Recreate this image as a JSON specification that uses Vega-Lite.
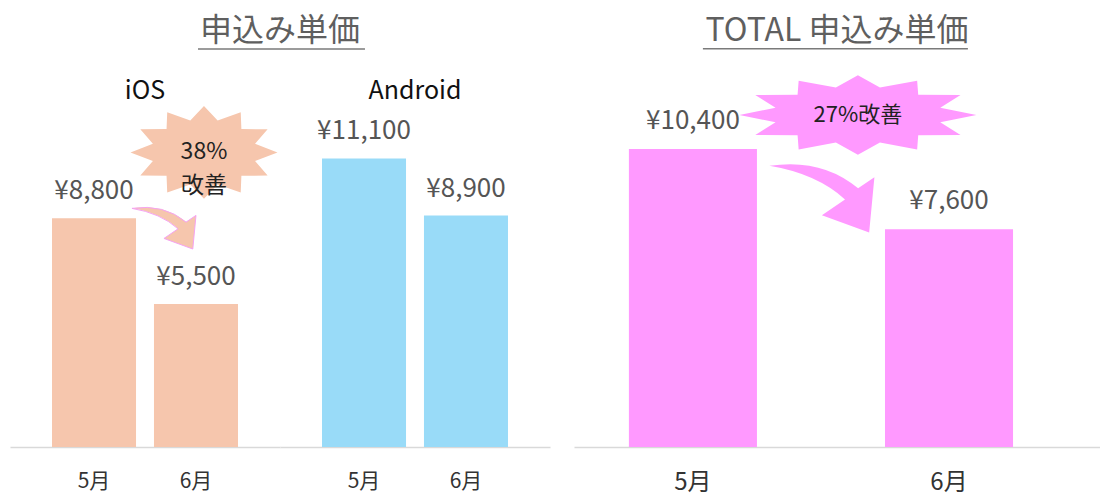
{
  "$schema": "https://vega.github.io/schema/vega-lite/v6.json",
  "padding": {"left": 10, "top": 15, "right": 0, "bottom": 0},
  "background": "white",
  "datasets": {
    "platform": [
      {"os": "iOS", "month": "5月", "value": 8800},
      {"os": "iOS", "month": "6月", "value": 5500},
      {"os": "Android", "month": "5月", "value": 11100},
      {"os": "Android", "month": "6月", "value": 8900}
    ],
    "total": [
      {"month": "5月", "value": 10400},
      {"month": "6月", "value": 7600}
    ]
  },
  "config": {
    "font": "Noto Sans CJK JP",
    "view": {"stroke": null},
    "locale": {"number": {"decimal": ".", "thousands": ",", "grouping": [3], "currency": ["¥", ""]}},
    "axisX": {"domainColor": "#d9d9d9", "domainWidth": 1.5, "ticks": false, "labelAngle": 0, "title": null, "labelColor": "#333333", "grid": false, "labelFont": "Noto Sans CJK JP"}
  },
  "spacing": 24,
  "hconcat": [
    {
      "data": {"name": "platform"},
      "title": {"text": "申込み単価", "fontSize": 32, "fontWeight": "normal", "color": "#5f5f5f", "offset": 0, "anchor": "middle", "font": "Noto Sans CJK JP"},
      "facet": {"column": {"field": "os", "type": "nominal", "sort": ["iOS", "Android"], "title": null,
        "header": {"labelFontSize": 25, "labelColor": "#111111", "labelPadding": 5, "labelFont": "Noto Sans CJK JP"}}},
      "spacing": 0,
      "bounds": "flush",
      "spec": {
        "width": 270,
        "height": 338,
        "encoding": {"x": {"field": "month", "type": "ordinal", "scale": {"paddingInner": 0.176, "paddingOuter": 0.412}, "axis": {"labelFontSize": 21, "labelPadding": 23}}},
        "layer": [
          {
            "mark": {"type": "bar"},
            "encoding": {
              "y": {"field": "value", "type": "quantitative", "scale": {"domain": [0, 13000], "nice": false}, "axis": null},
              "color": {"field": "os", "type": "nominal", "scale": {"domain": ["iOS", "Android"], "range": ["#F6C6AD", "#99DBF8"]}, "legend": null}
            }
          },
          {
            "mark": {"type": "text", "fontSize": 26, "color": "#555555", "baseline": "middle", "dy": -27},
            "encoding": {
              "y": {"field": "value", "type": "quantitative"},
              "text": {"field": "value", "type": "quantitative", "format": "$,.0f"}
            }
          },
          {
            "transform": [{"filter": "datum.os === 'iOS' && datum.month === '6月'"}],
            "mark": {"type": "tick", "thickness": 1.5, "size": 167, "color": "#7a7a7a", "opacity": 1},
            "encoding": {"y": {"datum": 15312}, "xOffset": {"value": 127.5}}
          },
          {
            "transform": [{"filter": "datum.os === 'iOS' && datum.month === '6月'"}],
            "mark": {"type": "point", "shape": "M1,0 L0.695,0.117 L0.866,0.315 L0.509,0.318 L0.5,0.546 L0.186,0.435 L0,0.63 L-0.186,0.435 L-0.5,0.546 L-0.509,0.318 L-0.866,0.315 L-0.695,0.117 L-1,0 L-0.695,-0.117 L-0.866,-0.315 L-0.509,-0.318 L-0.5,-0.546 L-0.186,-0.435 L0,-0.63 L0.186,-0.435 L0.5,-0.546 L0.509,-0.318 L0.866,-0.315 L0.695,-0.117 Z", "filled": true, "opacity": 1, "color": "#F6C6AD", "strokeWidth": 0, "size": 21609},
            "encoding": {"y": {"datum": 11330}, "xOffset": {"value": 50}}
          },
          {
            "transform": [{"filter": "datum.os === 'iOS' && datum.month === '6月'"}],
            "mark": {"type": "text", "fontSize": 23, "color": "#222222", "lineHeight": 34, "baseline": "middle", "dx": 8},
            "encoding": {"y": {"datum": 11330}, "text": {"value": ["38%", "改善"]}}
          },
          {
            "transform": [{"filter": "datum.os === 'iOS' && datum.month === '6月'"}],
            "mark": {"type": "point", "shape": "M-1,-0.6 Q0,-0.75 0.69,-0.17 L1,-0.38 L0.9,0.67 L0,0.34 L0.44,0.04 Q-0.1,-0.45 -1,-0.6 Z", "filled": true, "opacity": 1, "fill": "#F6C6AD", "stroke": "#F5A3F2", "strokeWidth": 1, "size": 4096},
            "encoding": {"y": {"datum": 8440}, "xOffset": {"value": 10}}
          }
        ]
      }
    },
    {
      "data": {"name": "total"},
      "title": {"text": "TOTAL 申込み単価", "fontSize": 32, "fontWeight": "normal", "color": "#5f5f5f", "offset": 0, "font": "Noto Sans CJK JP"},
      "width": 526,
      "height": 338,
      "encoding": {"x": {"field": "month", "type": "ordinal", "scale": {"paddingInner": 0.5, "paddingOuter": 0.277, "align": 0.387}, "axis": {"labelFontSize": 24, "labelPadding": 23}}},
      "layer": [
        {
          "mark": {"type": "bar", "color": "#FF99FF"},
          "encoding": {"y": {"field": "value", "type": "quantitative", "scale": {"domain": [0, 11800], "nice": false}, "axis": null}}
        },
        {
          "mark": {"type": "text", "fontSize": 26, "color": "#555555", "baseline": "middle", "dy": -28},
          "encoding": {
            "y": {"field": "value", "type": "quantitative"},
            "text": {"field": "value", "type": "quantitative", "format": "$,.0f"}
          }
        },
        {
          "transform": [{"filter": "datum.month === '5月'"}],
          "mark": {"type": "tick", "thickness": 1.5, "size": 265, "color": "#7a7a7a", "opacity": 1},
          "encoding": {"y": {"datum": 13901}, "xOffset": {"value": 206.5}}
        },
        {
          "transform": [{"filter": "datum.month === '5月'"}],
          "mark": {"type": "point", "shape": "M1,0 L0.695,0.062 L0.866,0.168 L0.509,0.17 L0.5,0.29 L0.186,0.232 L0,0.335 L-0.186,0.232 L-0.5,0.29 L-0.509,0.17 L-0.866,0.168 L-0.695,0.062 L-1,0 L-0.695,-0.062 L-0.866,-0.168 L-0.509,-0.17 L-0.5,-0.29 L-0.186,-0.232 L0,-0.335 L0.186,-0.232 L0.5,-0.29 L0.509,-0.17 L0.866,-0.168 L0.695,-0.062 Z", "filled": true, "opacity": 1, "color": "#FF99FF", "strokeWidth": 0, "size": 56169},
          "encoding": {"y": {"datum": 11590}, "xOffset": {"value": 229}}
        },
        {
          "transform": [{"filter": "datum.month === '5月'"}],
          "mark": {"type": "text", "fontSize": 22, "color": "#222222", "baseline": "middle", "dx": 165},
          "encoding": {"y": {"datum": 11590}, "text": {"value": "27%改善"}}
        },
        {
          "transform": [{"filter": "datum.month === '5月'"}],
          "mark": {"type": "point", "shape": "M-1,-0.6 Q0,-0.75 0.69,-0.17 L1,-0.38 L0.9,0.67 L0,0.34 L0.44,0.04 Q-0.1,-0.45 -1,-0.6 Z", "filled": true, "opacity": 1, "color": "#FF99FF", "strokeWidth": 0, "size": 11025},
          "encoding": {"y": {"datum": 8718}, "xOffset": {"value": 193}}
        }
      ]
    }
  ]
}
